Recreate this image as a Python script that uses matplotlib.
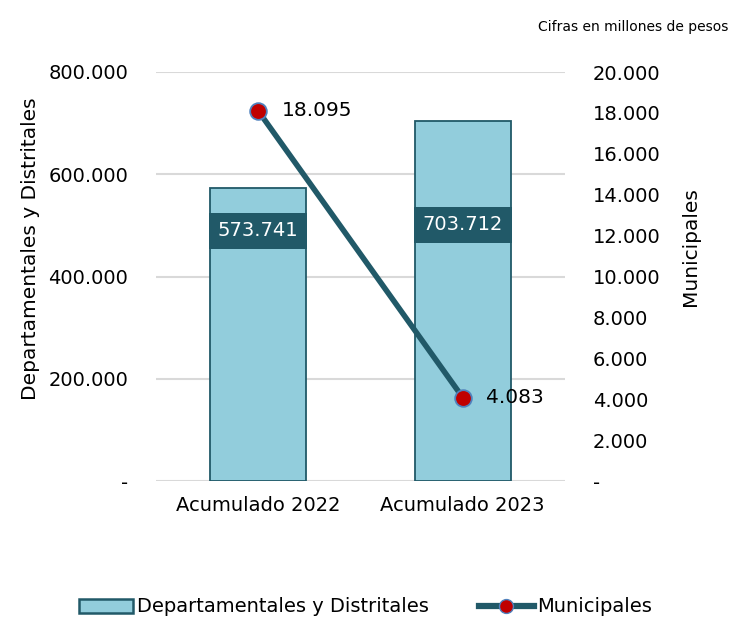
import matplotlib
matplotlib.use("Agg")
import matplotlib.pyplot as plt
from matplotlib.lines import Line2D
from matplotlib.patches import Patch
from matplotlib.ticker import FuncFormatter

plt.rcParams["font.family"] = ["DejaVu Sans"]

categories = ["Acumulado 2022", "Acumulado 2023"]
departamentales = [573741, 703712]
municipales = [18095, 4083]
label_pos = [489000, 501000]

bar_fill = "#92CDDC"
dark = "#215968"


def fmt(v, pos=None):
    if v == 0:
        return "-"
    return f"{v:,.0f}".replace(",", ".")


fig = plt.figure(figsize=(7.31, 6.19), dpi=100)
ax = fig.add_axes([156 / 731, 1 - 481 / 619, 409 / 731, 409 / 619])
ax2 = ax.twinx()

x = range(len(categories))
ax.bar(x, departamentales, width=0.47, color=bar_fill, edgecolor=dark, linewidth=1.3, zorder=2)
ax.set_xlim(-0.5, 1.5)
ax.set_ylim(0, 800000)
ax.set_yticks(range(0, 800001, 200000))
ax.yaxis.set_major_formatter(FuncFormatter(fmt))
ax.grid(axis="y", color="#d9d9d9", linewidth=1.5, zorder=0)
ax.set_axisbelow(True)
ax.set_xticks(list(x))
ax.set_xticklabels(categories)

for i, v in enumerate(departamentales):
    ax.text(i, label_pos[i], fmt(v), ha="center", va="center", fontsize=14, color="white",
            bbox=dict(boxstyle="square,pad=0.45", facecolor=dark, edgecolor="none"), zorder=5)

ax2.plot(list(x), municipales, color=dark, linewidth=4, marker="o", markersize=12,
         markerfacecolor="#C00000", markeredgecolor="#4F81BD", markeredgewidth=1.3, zorder=4)
ax2.set_ylim(0, 20000)
ax2.set_yticks(range(0, 20001, 2000))
ax2.yaxis.set_major_formatter(FuncFormatter(fmt))
for i, v in enumerate(municipales):
    ax2.annotate(fmt(v), (i, v), xytext=(17, 0), textcoords="offset points",
                 ha="left", va="center", fontsize=14.5, color="black")

for a in (ax, ax2):
    for s in a.spines.values():
        s.set_visible(False)
    a.tick_params(length=0, labelsize=14, colors="black")
ax.tick_params(axis="y", pad=20)
ax2.tick_params(axis="y", pad=20)
ax.tick_params(axis="x", pad=11)

ax.set_ylabel("Departamentales y Distritales", fontsize=14.5)
ax2.set_ylabel("Municipales", fontsize=14.5)
ax.yaxis.set_label_coords((30 - 156) / 409, (481 - 249) / 409)
ax2.yaxis.set_label_coords((690 - 156) / 409, (481 - 247) / 409)
ax.yaxis.label.set_va("center")
ax2.yaxis.label.set_va("center")
ax2.set_zorder(ax.get_zorder() + 1)
ax2.patch.set_visible(False)

fig.text(728 / 731, 1 - 27 / 619, "Cifras en millones de pesos", ha="right", va="center", fontsize=10)

handles = [
    Patch(facecolor=bar_fill, edgecolor=dark, linewidth=1.8),
    Line2D([0], [0], color=dark, linewidth=4.5, marker="o", markersize=10,
           markerfacecolor="#C00000", markeredgecolor="#4F81BD"),
]
fig.legend(handles, ["Departamentales y Distritales", "Municipales"], loc="center",
           bbox_to_anchor=(0.5, 1 - 607 / 619), ncol=2, frameon=False, fontsize=14,
           handlelength=2.8, handletextpad=0.2, columnspacing=2.6)

fig.savefig("out.png", dpi=100)
